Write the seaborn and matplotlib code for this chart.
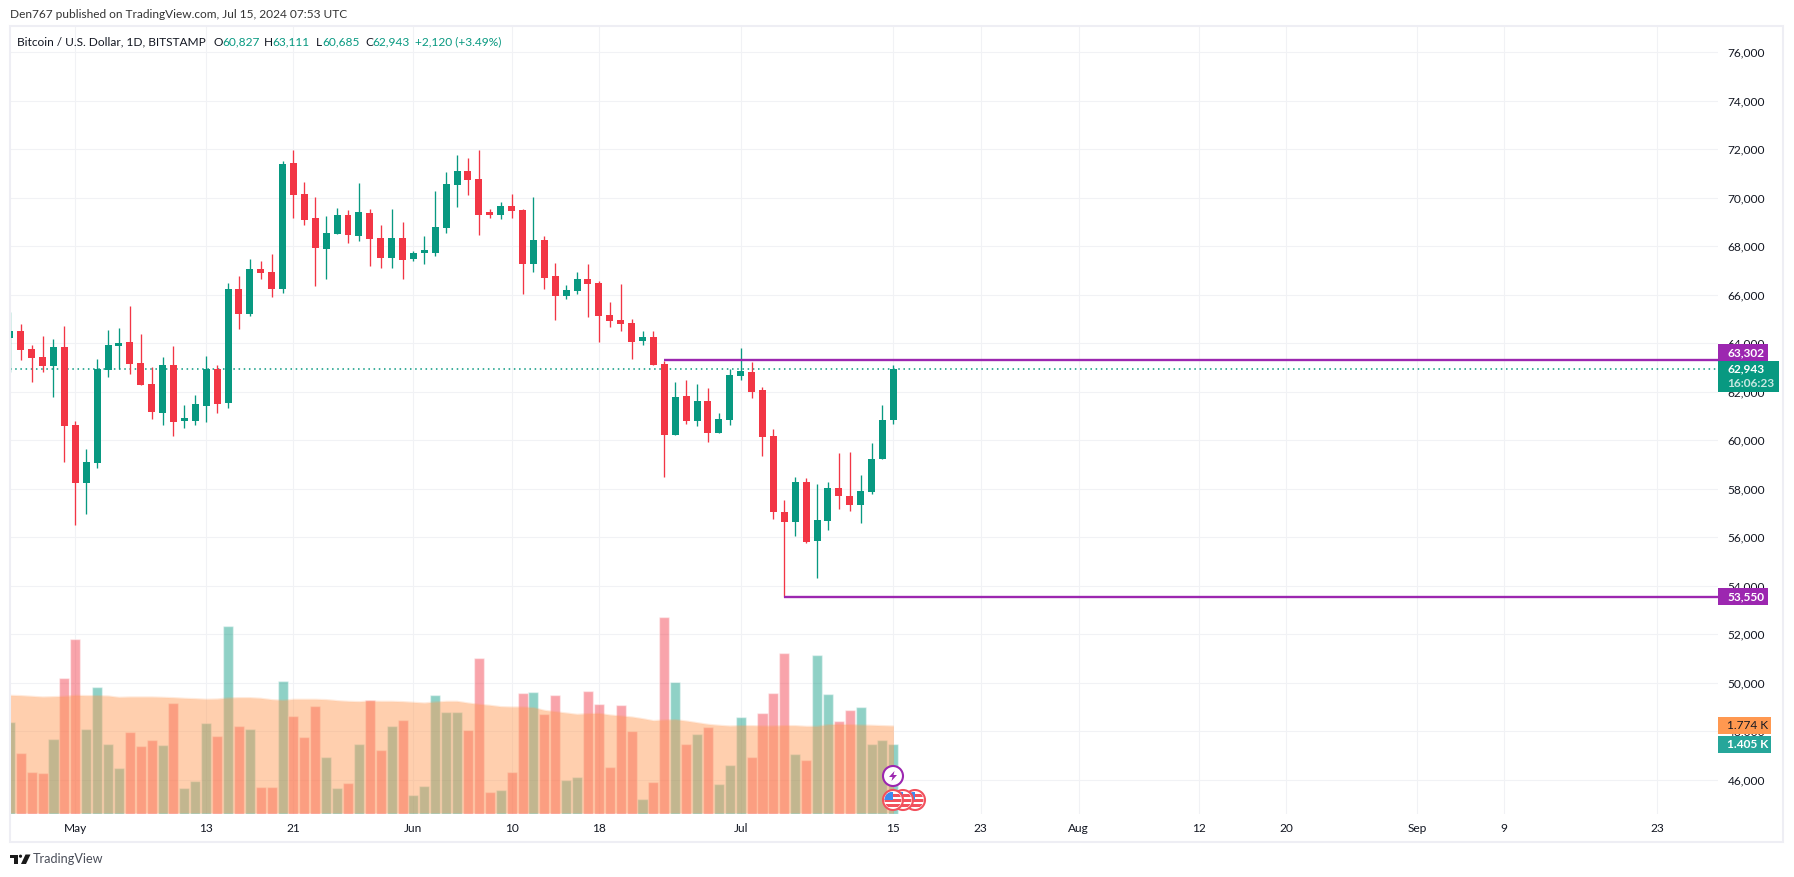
import matplotlib
matplotlib.use('Agg')
import matplotlib.pyplot as plt
from matplotlib.patches import Rectangle, Circle, Polygon
from matplotlib.transforms import IdentityTransform
import pandas as pd
import seaborn as sns

W, H = 1794, 877

# days counted from May 1 2024, first candle is Apr 25
days = list(range(-6, 76))

opens = [64220, 64510, 63760, 63430, 63060, 63850, 60630, 58240, 59060, 62900,
         63890, 64050, 63190, 62320, 61120, 63100, 60790, 60790, 61410, 62940,
         61540, 66240, 65210, 67060, 66940, 66240, 71435, 70160, 69170, 67890,
         68510, 69290, 68425, 69375, 68340, 67520, 68340, 67475, 67725, 67725,
         68755, 70530, 71105, 70775, 69330, 69290, 69660, 69500, 67270, 68260,
         66775, 65950, 66155, 66650, 66490, 65165, 64960, 64835, 64095, 64260,
         63145, 60215, 61825, 60790, 61620, 60300, 60835, 62650, 62815, 62070,
         60180, 57040, 56630, 58280, 55850, 56670, 58030, 57700, 57330, 57870,
         59230, 60827]
highs = [65290, 64795, 63930, 64300, 64180, 64710, 60800, 59640, 63350, 64550,
         64630, 65540, 64380, 63020, 63430, 63890, 61450, 61870, 63475, 63100,
         66490, 66775, 67480, 67395, 67680, 71520, 71970, 70650, 70030, 69250,
         69580, 69500, 70610, 69540, 68880, 69540, 69000, 67805, 68425, 70280,
         71065, 71765, 71640, 71970, 69540, 69830, 70160, 69540, 70030, 68425,
         67310, 66400, 66940, 67270, 66570, 65700, 66445, 65000, 64510, 64510,
         63270, 62400, 62485, 62320, 62155, 61120, 62940, 63805, 63230, 62195,
         60465, 57540, 58490, 58445, 58200, 58280, 59475, 59520, 58570, 59890,
         61455, 63111]
lows = [62830, 63310, 62400, 62815, 61780, 59100, 56510, 56960, 58855, 62610,
        62940, 62730, 62280, 60880, 60630, 60175, 60505, 60630, 60750, 61120,
        61330, 64590, 65125, 66650, 65910, 66070, 69170, 68880, 66360, 66650,
        68510, 68140, 68220, 67190, 67105, 67105, 66650, 67395, 67270, 67600,
        68550, 69620, 70115, 68470, 69170, 69125, 69170, 66030, 66940, 66240,
        64960, 65825, 66030, 65085, 64050, 64670, 64510, 63350, 63930, 63100,
        58480, 60215, 60670, 60590, 59930, 60300, 60630, 62485, 61740, 59350,
        56755, 53550, 56050, 55765, 54320, 56300, 57170, 57085, 56590, 57785,
        59230, 60685]
closes = [64510, 63720, 63390, 63060, 63850, 60590, 58240, 59105, 62940, 63930,
          64010, 63145, 62280, 61165, 63100, 60750, 60835, 61495, 62940, 61495,
          66240, 65210, 67060, 66900, 66240, 71395, 70115, 69085, 67930, 68550,
          69290, 68470, 69415, 68300, 67520, 68340, 67435, 67725, 67765, 68800,
          70570, 71105, 70735, 69290, 69290, 69660, 69455, 67270, 68260, 66690,
          65950, 66200, 66650, 66445, 65125, 64920, 64795, 64050, 64260, 63100,
          60215, 61780, 60790, 61620, 60300, 60880, 62690, 62855, 61990, 60135,
          57040, 56630, 58280, 55805, 56715, 58030, 57700, 57330, 57910, 59230,
          60840, 62943]
volumes = [1848, 1223, 840, 820, 1505, 2735, 3521, 1707, 2554, 1404,
           921, 1646, 1364, 1485, 1384, 2231, 517, 659, 1828, 1566,
           3783, 1767, 1707, 538, 538, 2675, 1969, 1546, 2171, 1142,
           517, 618, 1404, 2292, 1284, 1767, 1888, 376, 558, 2392,
           2050, 2050, 1687, 3138, 437, 477, 840, 2433, 2453, 2009,
           2392, 679, 739, 2473, 2211, 941, 2191, 1667, 296, 638,
           3965, 2654, 1404, 1606, 1747, 598, 981, 1949, 1142, 2029,
           2433, 3239, 1203, 1082, 3199, 2412, 1868, 2090, 2150, 1404,
           1485, 1405]
volume_ma = [2392, 2386, 2372, 2359, 2365, 2372, 2392, 2386, 2386, 2379,
             2352, 2359, 2359, 2359, 2352, 2345, 2332, 2325, 2312, 2318,
             2339, 2345, 2345, 2332, 2305, 2292, 2312, 2312, 2312, 2305,
             2285, 2271, 2265, 2278, 2271, 2271, 2265, 2251, 2238, 2258,
             2271, 2271, 2238, 2211, 2191, 2164, 2157, 2157, 2144, 2090,
             2063, 2036, 2009, 2023, 2029, 1996, 1976, 1956, 1922, 1882,
             1895, 1902, 1875, 1841, 1808, 1788, 1774, 1781, 1781, 1774,
             1774, 1781, 1781, 1767, 1767, 1801, 1808, 1801, 1794, 1788,
             1781, 1774]

price_ticks = list(range(46000, 78000, 2000))
date_ticks = [0, 12, 20, 31, 40, 48, 61, 75, 83, 92, 103, 111, 123, 131, 145]
date_labels = ['May', '13', '21', 'Jun', '10', '18', 'Jul', '15', '23', 'Aug',
               '12', '20', 'Sep', '9', '23']

GREEN = '#089981'
RED = '#f23645'
PURPLE = '#9c27b0'
ORANGE = '#ff9850'
INK = '#131722'
FONT = 8.55

sns.set_theme(style='white')
plt.rcParams['font.family'] = ['Lato', 'DejaVu Sans']

df = pd.DataFrame({'day': days, 'open': opens, 'high': highs, 'low': lows,
                   'close': closes, 'volume': volumes, 'ma': volume_ma})
df['direction'] = ['up' if c >= o else 'down' for o, c in zip(opens, closes)]
palette = {'up': GREEN, 'down': RED}

fig = plt.figure(figsize=(W / 100, H / 100), dpi=100)
fig.patch.set_facecolor('white')
rect = [10 / W, (H - 814) / H, (1718 - 10) / W, (814 - 26) / H]
ax = fig.add_axes(rect)
vol_ax = ax.twinx()
ax.set_zorder(2)
vol_ax.set_zorder(3)
ax.patch.set_visible(False)
vol_ax.patch.set_visible(False)

# volume panel, the moving average sits over the bars
sns.barplot(data=df, x='day', y='volume', hue='direction', palette=palette,
            native_scale=True, dodge=False, width=0.92, alpha=0.45, saturation=1,
            errorbar=None, legend=False, ax=vol_ax)
vol_ax.fill_between(df['day'], 20, df['ma'], color=ORANGE, alpha=0.46, lw=0)
vol_ax.plot(df['day'], df['ma'], color=ORANGE, alpha=0.2, lw=1)
vol_ax.set_ylim(0, 15886)
vol_ax.set_yticks([])
vol_ax.set_xlabel('')
vol_ax.set_ylabel('')

# candles
ax.vlines(df['day'], df['low'], df['high'],
          colors=[palette[d] for d in df['direction']], lw=0.95, zorder=3)
ax.bar(df['day'], (df['close'] - df['open']).abs().clip(lower=120),
       bottom=df[['open', 'close']].min(axis=1), width=0.64,
       color=[palette[d] for d in df['direction']], lw=0, zorder=3)

# last price and the two drawn levels
ax.axhline(closes[-1], color=GREEN, lw=1.1, ls=(0, (1, 2.4)), zorder=2.8)
ax.hlines(63302, 54, 150.6, color=PURPLE, lw=1.7, zorder=4)
ax.hlines(53550, 65, 150.6, color=PURPLE, lw=1.7, zorder=4)

ax.set_xlim(-5.987, 150.6)
vol_ax.set_xlim(-5.987, 150.6)
ax.set_ylim(44590, 77085)
ax.set_yticks(price_ticks)
ax.set_yticklabels([f'{p:,}' for p in price_ticks])
ax.yaxis.tick_right()
ax.set_xticks(date_ticks)
ax.set_xticklabels(date_labels)
ax.tick_params(axis='y', length=0, pad=7.0, labelsize=FONT, labelcolor=INK)
ax.tick_params(axis='x', length=0, pad=6.2, labelsize=FONT, labelcolor=INK)
ax.grid(True, color='#f1f2f5', lw=0.8)
ax.set_axisbelow(True)
for a in (ax, vol_ax):
    sns.despine(ax=a, left=True, right=True, top=True, bottom=True)


def px_text(x, y, s, **kw):
    kw.setdefault('fontsize', FONT)
    kw.setdefault('color', INK)
    kw.setdefault('va', 'center')
    return fig.text(x / W, 1 - y / H, s, zorder=10, **kw)


def px_box(x0, y0, x1, y1, color):
    fig.add_artist(Rectangle((x0 / W, 1 - y1 / H), (x1 - x0) / W, (y1 - y0) / H,
                             transform=fig.transFigure, facecolor=color, lw=0, zorder=9))


# outer frame
fig.add_artist(Rectangle((9.5 / W, 1 - 842 / H), (1783 - 9.5) / W, (842 - 26) / H,
                         transform=fig.transFigure, fill=False,
                         edgecolor='#eeeef4', lw=1.5, zorder=8))

# price axis tags
px_box(1718, 344, 1768, 361, PURPLE)
px_text(1727, 352.5, '63,302', color='white', fontweight='bold')
px_box(1718, 361, 1779, 392, GREEN)
px_text(1727, 369, '62,943', color='white', fontweight='bold')
px_text(1727, 383, '16:06:23', color='#c8e8e2', fontweight='bold')
px_box(1718, 588, 1768, 605, PURPLE)
px_text(1727, 596.5, '53,550', color='white', fontweight='bold')
px_box(1718, 717, 1771, 734, ORANGE)
px_text(1727, 725.5, '1.774 K')
px_box(1718, 736, 1771, 753, '#26a69a')
px_text(1727, 744.5, '1.405 K', color='white', fontweight='bold')

# header and legend row
px_text(10, 15, 'Den767 published on TradingView.com, Jul 15, 2024 07:53 UTC', color='#333333')
px_text(17, 42, 'Bitcoin / U.S. Dollar, 1D, BITSTAMP')
for x, s in [(213, 'O'), (264, 'H'), (316, 'L'), (365, 'C')]:
    px_text(x, 42, s)
for x, s in [(222, '60,827'), (272, '63,111'), (322, '60,685'), (372, '62,943'),
             (415, '+2,120 (+3.49%)')]:
    px_text(x, 42, s, color=GREEN)

# footer logo
px_box(10, 854.5, 18, 857.5, '#1a1a1a')
px_box(14, 857, 18, 864, '#1a1a1a')
fig.add_artist(Circle((20.5, H - 856.2), 1.6, transform=IdentityTransform(),
                      color='#1a1a1a', lw=0, zorder=9))
fig.add_artist(Polygon([(25.5, H - 854.5), (30.5, H - 854.5), (26, H - 864), (21, H - 864)],
                       transform=IdentityTransform(), color='#1a1a1a', lw=0, zorder=9))
px_text(33, 859, 'TradingView', fontsize=9.1, color='#4a4e59')

# event markers on the last bar
for cx in [915, 903, 893]:
    cy = H - 800
    disc = Circle((cx, cy), 10, transform=IdentityTransform(), facecolor='white',
                  edgecolor='#f2515d', lw=1.5, zorder=9)
    fig.add_artist(disc)
    for y0 in [-6.5, -1.5, 3.5]:
        stripe = Rectangle((cx - 10, cy + y0), 20, 2.6, transform=IdentityTransform(),
                           facecolor='#f2515d', lw=0, zorder=9)
        fig.add_artist(stripe)
        stripe.set_clip_path(Circle((cx, cy), 8.5, transform=IdentityTransform()))
    canton = Rectangle((cx - 10, cy), 10, 8, transform=IdentityTransform(),
                       facecolor='#3d8bf0', lw=0, zorder=9)
    fig.add_artist(canton)
    canton.set_clip_path(Circle((cx, cy), 8.5, transform=IdentityTransform()))
fig.add_artist(Circle((893, H - 776), 10, transform=IdentityTransform(), facecolor='white',
                      edgecolor=PURPLE, lw=1.5, zorder=9))
fig.add_artist(Polygon([(894.5, H - 771), (889, H - 777), (892.5, H - 777), (891.5, H - 781),
                        (897, H - 775), (893.5, H - 775)],
                       transform=IdentityTransform(), color=PURPLE, lw=0, zorder=9))

fig.savefig('out.png', dpi=100)
